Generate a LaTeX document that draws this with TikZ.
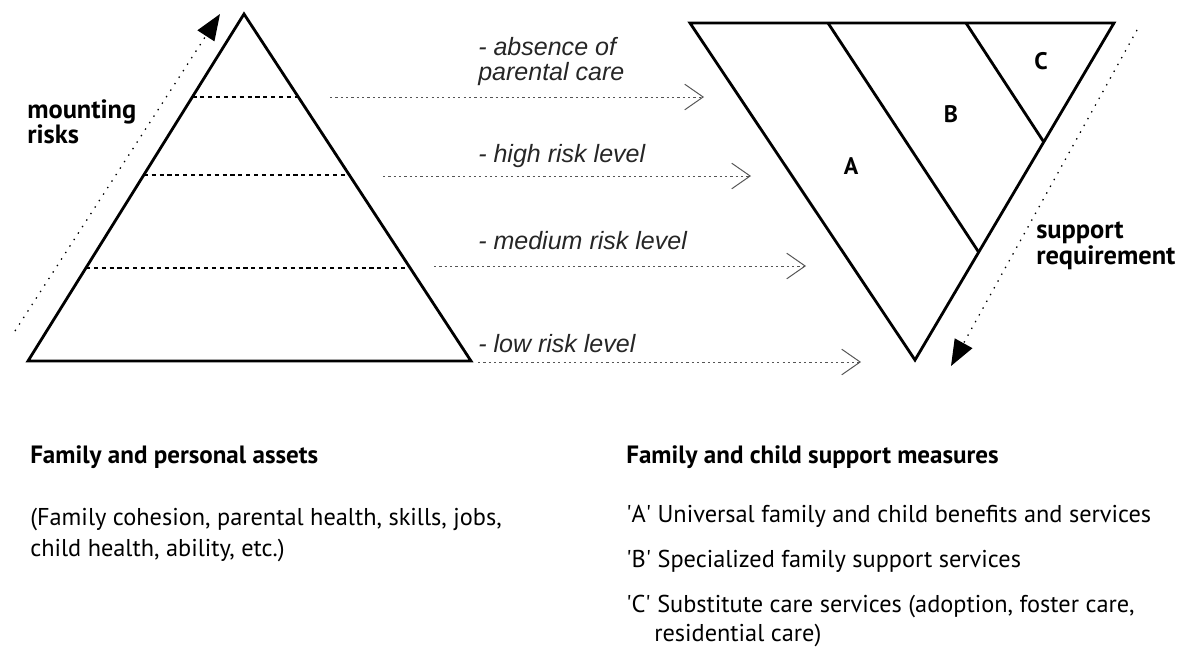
\documentclass[tikz,border=0pt]{standalone}
\usepackage{fontspec}
\setmainfont{PT Sans}
\newfontfamily\labelfont{Liberation Sans}
\usetikzlibrary{arrows.meta,calc}
\definecolor{riskInk}{HTML}{000000}
\definecolor{riskGray}{HTML}{555555}
\tikzset{
  every picture/.style={text=riskInk},
  tri side/.style={draw=riskInk, line width=2pt, line join=miter},
  level line/.style={draw=riskInk, line width=1.1pt, dash pattern=on 3pt off 2.6pt},
  level arrow/.style={draw=riskGray, line width=0.7pt, dash pattern=on 1.6pt off 2.2pt,
    -{Straight Barb[length=4.6mm,width=6.4mm,line width=0.7pt]}},
  trend arrow/.style={draw=riskInk, line width=0.9pt, dash pattern=on 1pt off 4.5pt,
    -{Triangle[length=6.5mm,width=5mm]}},
  level label/.style={font=\labelfont\itshape\fontsize{17.8}{20}\selectfont,
    anchor=base west, inner sep=0pt, text=black!85},
  side label/.style={font=\bfseries\fontsize{18.8}{18}\selectfont, align=left,
    anchor=north west, inner sep=0pt},
  zone label/.style={font=\bfseries\fontsize{17}{20}\selectfont},
  head text/.style={font=\bfseries\fontsize{17.8}{20}\selectfont, anchor=base west, inner sep=0pt},
  body text/.style={font=\fontsize{17.3}{22}\selectfont, anchor=base west, inner sep=0pt,
    align=left}
}

\begin{document}
\begin{tikzpicture}[x=0.025cm,y=-0.025cm]
  \useasboundingbox (0,0) rectangle (1186,646);

  % pyramid of family assets
  \coordinate (pyrTop) at (244,14);
  \coordinate (pyrLeft) at (28,361);
  \coordinate (pyrRight) at (471,361);
  \draw[tri side] (pyrTop) -- (pyrLeft) -- (pyrRight) -- cycle;
  \foreach \t/\n in {0.239/1,0.464/2,0.732/3}
    \draw[level line] ($(pyrTop)!\t!(pyrLeft)$) -- ($(pyrTop)!\t!(pyrRight)$);

  % mounting risks
  \coordinate (riskLow) at (15,331);
  \coordinate (riskHigh) at (220,14);
  \draw[trend arrow] (riskLow) -- (riskHigh);
  \node[side label] (riskText) at (27,99) {mounting\\risks};

  % inverted triangle of support measures
  \coordinate (supLeft) at (690,23);
  \coordinate (supRight) at (1114,23);
  \coordinate (supTip) at (915,360);
  \draw[tri side] (supLeft) -- (supRight) -- (supTip) -- cycle;
  \coordinate (cutAB) at (828,23);
  \coordinate (cutBC) at (966,23);
  \draw[tri side] (cutAB) -- ($(supRight)!0.68!(supTip)$);
  \draw[tri side] (cutBC) -- ($(supRight)!0.353!(supTip)$);
  \node[zone label] (zoneA) at (851,166) {A};
  \node[zone label] (zoneB) at (951,114) {B};
  \node[zone label] (zoneC) at (1041,61) {C};

  % support requirement
  \coordinate (needLow) at (1137,30);
  \coordinate (needHigh) at (951,366);
  \draw[trend arrow] (needLow) -- (needHigh);
  \node[side label] (needText) at (1036,222) {support\\requirement};

  % risk levels pointing to the measures
  \coordinate (lvlAs) at (330,97);  \coordinate (lvlAe) at (704,97);
  \coordinate (lvlBs) at (383,176); \coordinate (lvlBe) at (751,176);
  \coordinate (lvlCs) at (434,266); \coordinate (lvlCe) at (806,266);
  \coordinate (lvlDs) at (478,362); \coordinate (lvlDe) at (861,362);
  \draw[level arrow] (lvlAs) -- (lvlAe);
  \draw[level arrow] (lvlBs) -- (lvlBe);
  \draw[level arrow] (lvlCs) -- (lvlCe);
  \draw[level arrow] (lvlDs) -- (lvlDe);
  \node[level label] (lvlA) at (478,55) {- absence of};
  \node[level label] (lvlA2) at (478,80) {parental care};
  \node[level label] (lvlB) at (478,162) {- high risk level};
  \node[level label] (lvlC) at (478,249) {- medium risk level};
  \node[level label] (lvlD) at (478,352) {- low risk level};

  % captions below
  \node[head text] (assetHead) at (30,463) {Family and personal assets};
  \node[body text] (assetBody) at (30,556)
    {(Family cohesion, parental health, skills, jobs,\\child health, ability, etc.)};
  \node[head text] (measureHead) at (626,463) {Family and child support measures};
  \node[body text] (measureA) at (626,522)
    {\textquotesingle A\textquotesingle{} Universal family and child benefits and services};
  \node[body text] (measureB) at (626,567)
    {\textquotesingle B\textquotesingle{} Specialized family support services};
  \node[body text] (measureC) at (626,612)
    {\textquotesingle C\textquotesingle{} Substitute care services (adoption, foster care,};
  \node[body text] (measureC2) at (654,641) {residential care)};
\end{tikzpicture}
\end{document}
